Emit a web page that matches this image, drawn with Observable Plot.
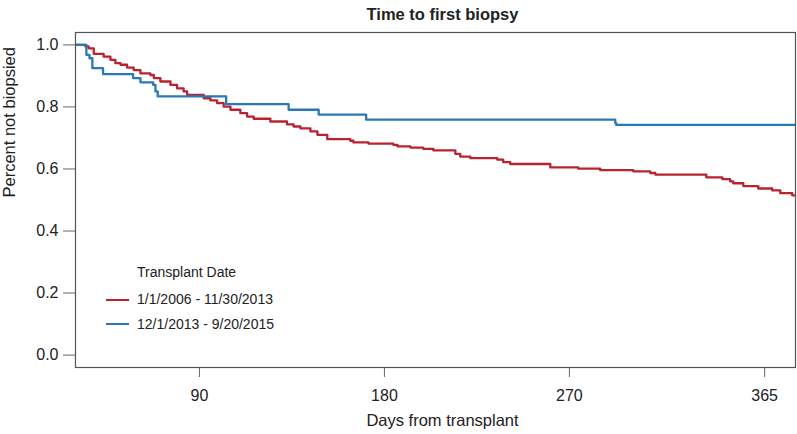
<!DOCTYPE html>
<html>
<head>
<meta charset="utf-8">
<script src="https://cdn.jsdelivr.net/npm/d3@7"></script>
<script src="https://cdn.jsdelivr.net/npm/@observablehq/plot@0.6"></script>
<style>
  html, body { margin: 0; padding: 0; background: #fff; }
  #wrap { position: relative; width: 797px; height: 434px; font-family: "Liberation Sans", Arial, Helvetica, sans-serif; color: #222; }
  .lg { position: absolute; font-size: 14px; line-height: 14px; white-space: nowrap; }
  .sw { position: absolute; height: 0; border-top-width: 2.4px; border-top-style: solid; width: 23px; }
</style>
</head>
<body>
<div id="wrap"></div>
<script>
// ---- data ----
const chartTitle = "Time to first biopsy";
const xLabel = "Days from transplant";
const yLabel = "Percent not biopsied";
const legendTitle = "Transplant Date";
const groups = ["1/1/2006 - 11/30/2013", "12/1/2013 - 9/20/2015"];
const groupColors = ["#b8232f", "#2a79b6"];

const xTicks = [90, 180, 270, 365];
const yTicks = [0, 0.2, 0.4, 0.6, 0.8, 1.0];

const redDays = [29, 34.5, 36.1, 38.6, 43.4, 46.7, 49.1, 51.6, 54.8, 58.0, 61.3, 66.1, 67.8, 71.0, 75.9, 79.1, 82.3, 84.0,
  92.1, 95.3, 98.6, 101.8, 105.1, 109.9, 113.2, 116.4, 124.5, 132.6, 135.8, 139.1, 144.0, 147.4, 152.2, 163.4, 164.9,
  172.2, 184.3, 186.3, 192.6, 198.9, 203.8, 214.5, 216.9, 221.8, 234.9, 237.8, 241.2, 260.7, 274.3, 285.0, 301.1,
  309.3, 311.8, 336.6, 344.4, 348.2, 349.7, 354.6, 361.9, 368.7, 372.6, 378.4, 381];
const redSurv = [1.0, 0.995, 0.989, 0.971, 0.962, 0.952, 0.941, 0.936, 0.927, 0.919, 0.908, 0.903, 0.893, 0.882, 0.871, 0.860, 0.850, 0.839,
  0.828, 0.821, 0.812, 0.801, 0.791, 0.780, 0.769, 0.762, 0.753, 0.744, 0.737, 0.731, 0.721, 0.710, 0.696, 0.691, 0.686,
  0.682, 0.678, 0.673, 0.669, 0.665, 0.660, 0.649, 0.640, 0.635, 0.630, 0.622, 0.616, 0.605, 0.601, 0.596, 0.592,
  0.587, 0.582, 0.573, 0.567, 0.560, 0.554, 0.545, 0.537, 0.531, 0.522, 0.515, 0.515];

const blueDays = [29, 35.0, 36.5, 37.9, 43.1, 57.7, 61.3, 67.5, 68.6, 69.7, 103.0, 133.4, 148.0, 171.1, 292.3, 292.8, 381];
const blueSurv = [1.0, 0.968, 0.957, 0.925, 0.906, 0.893, 0.879, 0.871, 0.850, 0.834, 0.809, 0.791, 0.775, 0.759, 0.748, 0.742, 0.742];

// ---- build table ----
const rows = [];
redDays.forEach((d, i) => rows.push({day: d, surv: redSurv[i], group: groups[0]}));
blueDays.forEach((d, i) => rows.push({day: d, surv: blueSurv[i], group: groups[1]}));

const font = "'Liberation Sans', Arial, Helvetica, sans-serif";
const W = 797, H = 434;

const chart = Plot.plot({
  width: W,
  height: H,
  marginLeft: 75,
  marginRight: 2,
  marginTop: 32,
  marginBottom: 67,
  style: {fontFamily: font, fontSize: "16px", color: "#222", background: "#fff", overflow: "visible"},
  x: {domain: [29.7, 380], axis: null},
  y: {domain: [-0.04, 1.04], axis: null},
  color: {domain: groups, range: groupColors},
  marks: [
    Plot.axisX({ticks: xTicks, tickSize: 10, tickPadding: 12, stroke: "#666", fontSize: 16, label: null, tickFormat: d => String(d), fill: "#222"}),
    Plot.axisY({ticks: yTicks, tickSize: 12, tickPadding: 5, stroke: "#666", fontSize: 16, label: null, tickFormat: d3.format(".1f"), fill: "#222"}),
    Plot.line(rows, {x: "day", y: "surv", z: "group", stroke: "group", curve: "step-after", strokeWidth: 2.3, clip: true}),
    Plot.frame({stroke: "#555", strokeWidth: 1.2}),
    Plot.text([chartTitle], {frameAnchor: "top", dx: 7, dy: -24.5, fontSize: 16.5, fontWeight: "bold", fill: "#222"}),
    Plot.text([xLabel], {frameAnchor: "bottom", dx: 7, dy: 58.5, fontSize: 16.5, fill: "#222"}),
    Plot.text([yLabel], {frameAnchor: "left", rotate: -90, dx: -66, dy: -2.5, fontSize: 16.5, fill: "#222"})
  ]
});

const wrap = document.getElementById("wrap");
wrap.appendChild(chart);

// ---- legend (inside the plot area, bottom-left) ----
function addText(txt, left, cy) {
  const d = document.createElement("div");
  d.className = "lg";
  d.textContent = txt;
  d.style.left = left + "px";
  d.style.top = (cy - 7) + "px";
  wrap.appendChild(d);
}
function addSwatch(color, left, cy) {
  const d = document.createElement("div");
  d.className = "sw";
  d.style.borderTopColor = color;
  d.style.left = left + "px";
  d.style.top = (cy - 1.2) + "px";
  wrap.appendChild(d);
}
addText(legendTitle, 137, 272);
groups.forEach((g, i) => {
  const cy = 299 + i * 24.5;
  addSwatch(groupColors[i], 106, cy + 1);
  addText(g, 137, cy);
});
</script>
</body>
</html>
